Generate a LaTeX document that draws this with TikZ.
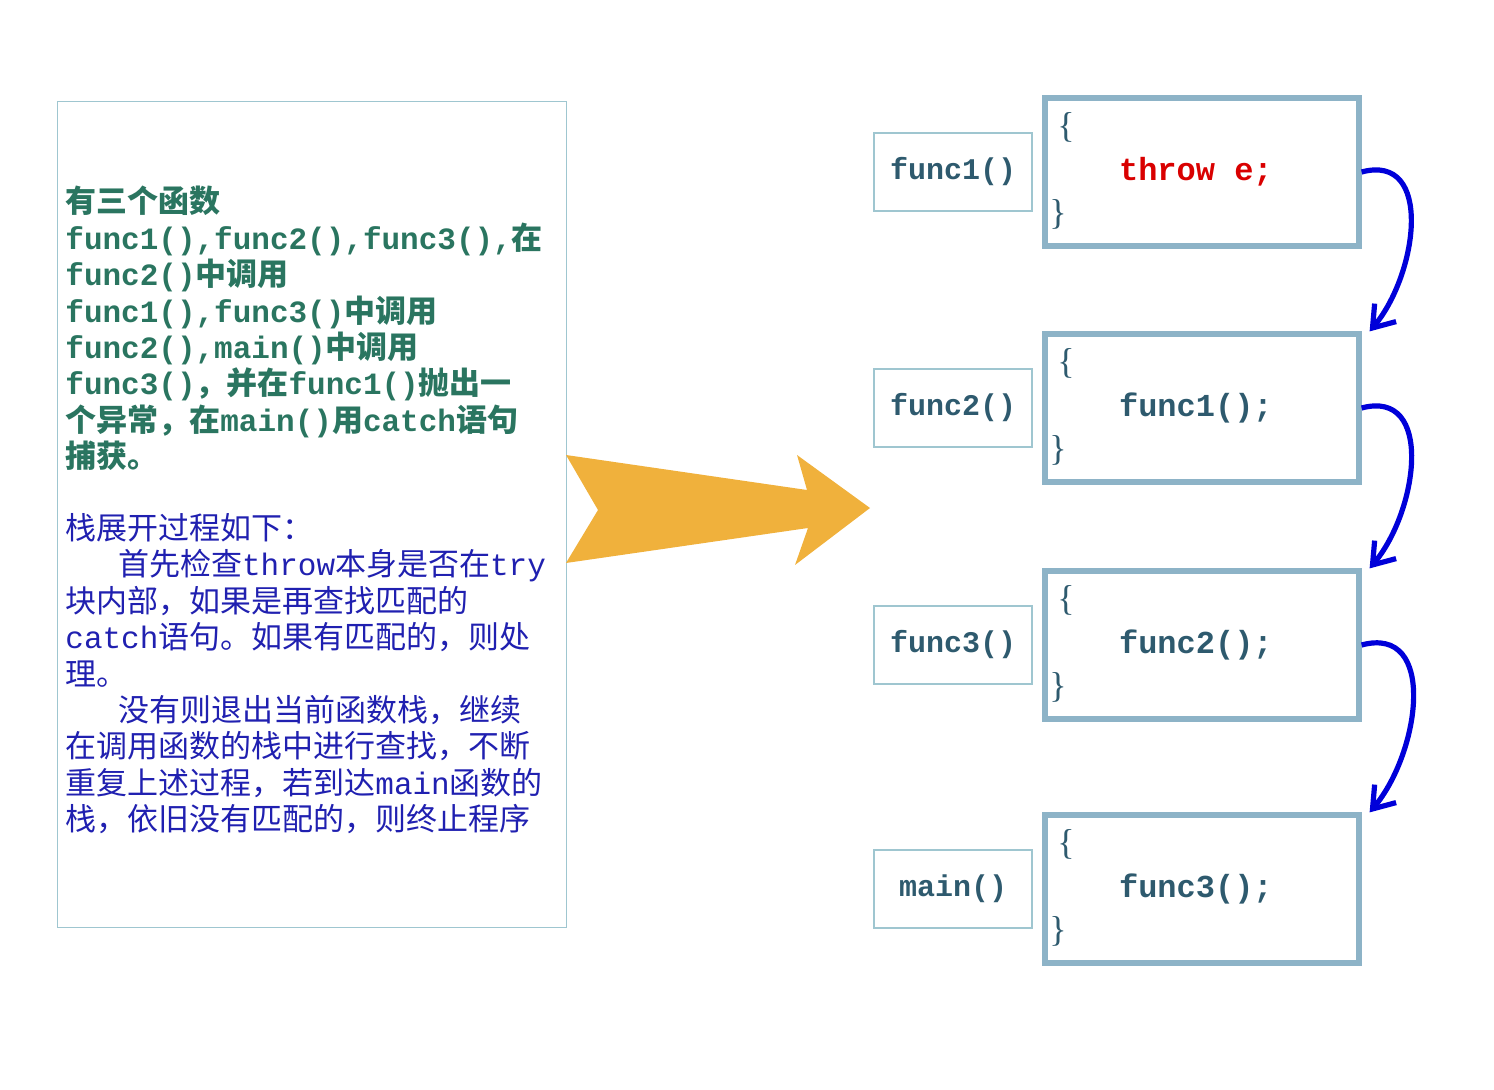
\documentclass[tikz,border=0pt]{standalone}
\usepackage{fontspec}
\setmainfont{Liberation Mono}
\newfontfamily\cjk{Noto Sans CJK SC}
\newfontfamily\serifm{Liberation Serif}
\usetikzlibrary{arrows.meta}
\definecolor{gtext}{HTML}{2A7560}
\definecolor{btext}{HTML}{2020B0}
\definecolor{boxb}{HTML}{8DB3C7}
\definecolor{lbox}{HTML}{9FC6D0}
\definecolor{orng}{HTML}{F0B13C}
\definecolor{ltxt}{HTML}{2E5A6E}
\tikzset{x=0.5pt,y=-0.5pt,
 lab/.style={draw=lbox,line width=0.7pt,minimum width=79pt,minimum height=39pt,font=\fontsize{15}{15}\selectfont\bfseries,text=ltxt},
 code/.style={draw=boxb,line width=2.6pt,minimum width=157pt,minimum height=74pt},
 br/.style={font=\serifm\fontsize{18}{18}\selectfont,text=ltxt},
 ct/.style={font=\fontsize{16}{16}\selectfont\bfseries,text=ltxt,anchor=west},
 carc/.style={draw=blue!85!black,line width=2.6pt,-{Straight Barb[length=10pt,width=14pt]}}}
\begin{document}
\begin{tikzpicture}
\useasboundingbox (0,0) rectangle (1494,1090);
\node[draw=lbox,line width=0.7pt,minimum width=254.5pt,minimum height=413pt,anchor=north west] (txt) at (57,101) {};
\node[anchor=north west,inner sep=0pt,align=left,font=\fontsize{15.5}{18.2}\selectfont\bfseries,text=gtext] (t1) at (65,186) {%
{\cjk 有三个函数}\\
func1(),func2(),func3(),{\cjk 在}\\
func2(){\cjk 中调用}\\
func1(),func3(){\cjk 中调用}\\
func2(),main(){\cjk 中调用}\\
func3(){\cjk ，并在}func1(){\cjk 抛出一}\\
{\cjk 个异常，在}main(){\cjk 用}catch{\cjk 语句}\\
{\cjk 捕获。}};
\node[anchor=north west,inner sep=0pt,align=left,font=\fontsize{15.5}{18.2}\selectfont,text=btext] (t2) at (65,513) {%
{\cjk 栈展开过程如下：}\\
{\cjk \hspace*{1.7em}首先检查}throw{\cjk 本身是否在}try\\
{\cjk 块内部，如果是再查找匹配的}\\
catch{\cjk 语句。如果有匹配的，则处}\\
{\cjk 理。}\\
{\cjk \hspace*{1.7em}没有则退出当前函数栈，继续}\\
{\cjk 在调用函数的栈中进行查找，不断}\\
{\cjk 重复上述过程，若到达}main{\cjk 函数的}\\
{\cjk 栈，依旧没有匹配的，则终止程序}};
\fill[orng] (566,455) -- (807,490) -- (797,455) -- (870,508) -- (795,565) -- (808,528) -- (566,563) -- (598,510) -- cycle;
\foreach \i/\y/\l/\c/\col in {1/172/func1()/throw e;/red!85!black, 2/408/func2()/func1();/ltxt, 3/645/func3()/func2();/ltxt, 4/889/main()/func3();/ltxt}{
 \node[lab] (l\i) at (953,\y) {\l};
 \node[code] (c\i) at (1202,\y) {};
 \node[br] at (1066,\y-45) {\{};
 \node[br] at (1058,\y+42) {\}};
 \node[ct,text=\col] at (1112,\y) {\c};
}
\foreach \a/\b in {1/2,2/3,3/4}{
 \draw[carc] (c\a.east) to[out=15,in=50,looseness=1.2] ([xshift=4pt]c\b.north east);
}
\end{tikzpicture}
\end{document}
